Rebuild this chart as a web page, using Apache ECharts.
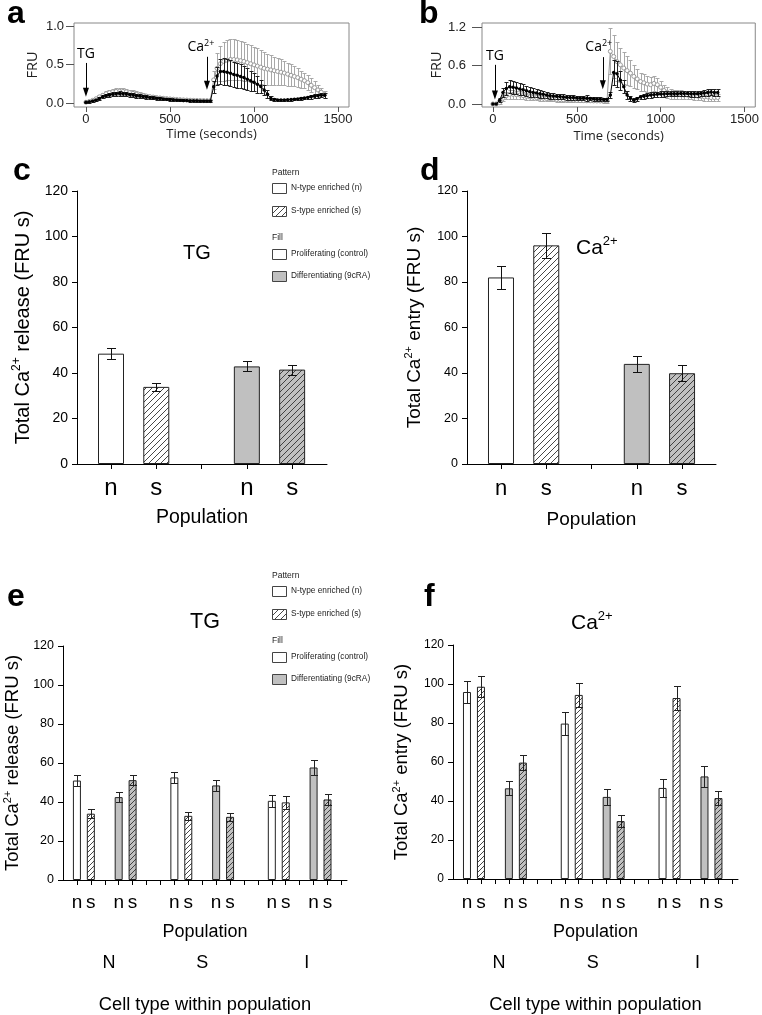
<!DOCTYPE html>
<html><head><meta charset="utf-8">
<script src="https://cdn.jsdelivr.net/npm/echarts@6/dist/echarts.min.js"></script>
<style>html,body{margin:0;padding:0;background:#fff}#c{width:762px;height:1015px}</style>
</head><body><div id="c"></div><script>
// ---------- DATA ----------
// Panel a: time course (FRU), 20 s sampling
const aTime = [0,20,40,60,80,100,120,140,160,180,200,220,240,260,280,300,320,340,360,380,400,420,440,460,480,500,520,540,560,580,600,620,640,660,680,700,720,740,760,780,800,820,840,860,880,900,920,940,960,980,1000,1020,1040,1060,1080,1100,1120,1140,1160,1180,1200,1220,1240,1260,1280,1300,1320,1340,1360,1380,1400,1420];
const aBlack = [0.01,0.015,0.025,0.04,0.06,0.08,0.095,0.105,0.115,0.12,
0.122,0.12,0.118,0.11,0.103,0.095,0.09,0.083,0.077,0.072,
0.066,0.062,0.057,0.053,0.049,0.045,0.042,0.039,0.036,0.034,
0.032,0.03,0.029,0.028,0.027,0.026,0.026,0.025,0.21,0.35,
0.41,0.41,0.4,0.385,0.37,0.36,0.345,0.33,0.31,0.29,
0.27,0.245,0.215,0.17,0.115,0.06,0.045,0.04,0.04,0.04,
0.042,0.045,0.048,0.052,0.058,0.065,0.072,0.08,0.088,0.095,
0.1,0.1];
const aBlackErr = [0.005,0.01,0.012,0.015,0.018,0.02,0.022,0.025,0.027,0.028,
0.028,0.028,0.027,0.026,0.025,0.024,0.023,0.022,0.021,0.02,
0.019,0.018,0.017,0.016,0.015,0.015,0.014,0.014,0.013,0.013,
0.012,0.012,0.012,0.011,0.011,0.011,0.011,0.011,0.08,0.12,
0.16,0.17,0.17,0.17,0.165,0.16,0.155,0.15,0.14,0.13,
0.12,0.11,0.09,0.07,0.05,0.025,0.015,0.012,0.012,0.012,
0.012,0.013,0.014,0.015,0.017,0.019,0.021,0.023,0.025,0.027,
0.028,0.03];
const aGray = [0.01,0.02,0.035,0.055,0.08,0.1,0.12,0.135,0.145,0.15,
0.152,0.15,0.145,0.135,0.125,0.115,0.105,0.097,0.09,0.083,
0.077,0.071,0.066,0.061,0.057,0.053,0.049,0.046,0.043,0.04,
0.038,0.036,0.034,0.033,0.032,0.031,0.03,0.03,0.3,0.45,
0.51,0.54,0.555,0.565,0.565,0.56,0.55,0.54,0.525,0.51,
0.495,0.48,0.465,0.45,0.44,0.43,0.42,0.41,0.4,0.39,
0.375,0.36,0.345,0.33,0.31,0.29,0.265,0.23,0.2,0.17,
0.14,0.11];
const aGrayErr = [0.005,0.01,0.015,0.02,0.025,0.03,0.035,0.04,0.042,0.045,
0.045,0.045,0.043,0.04,0.038,0.035,0.033,0.03,0.028,0.026,
0.024,0.022,0.02,0.019,0.018,0.017,0.016,0.015,0.015,0.014,
0.014,0.013,0.013,0.013,0.012,0.012,0.012,0.012,0.12,0.2,
0.23,0.25,0.26,0.26,0.26,0.26,0.255,0.25,0.245,0.24,
0.235,0.23,0.22,0.21,0.2,0.19,0.18,0.175,0.17,0.16,
0.15,0.14,0.13,0.12,0.11,0.1,0.095,0.09,0.08,0.07,
0.06,0.05];
// Panel b
const bTime = [0,20,40,60,80,100,120,140,160,180,200,220,240,260,280,300,320,340,360,380,400,420,440,460,480,500,520,540,560,580,600,620,640,660,680,700,720,740,760,780,800,820,840,860,880,900,920,940,960,980,1000,1020,1040,1060,1080,1100,1120,1140,1160,1180,1200,1220,1240,1260,1280,1300,1320,1340];
const bBlack = [0,0,0.06,0.18,0.24,0.27,0.26,0.25,0.235,0.22,
0.205,0.19,0.18,0.17,0.16,0.15,0.14,0.13,0.125,0.12,
0.115,0.11,0.105,0.1,0.1,0.095,0.09,0.09,0.09,0.085,
0.08,0.075,0.075,0.07,0.07,0.14,0.49,0.47,0.37,0.27,
0.14,0.09,0.06,0.08,0.11,0.12,0.13,0.14,0.145,0.15,
0.155,0.155,0.16,0.16,0.16,0.16,0.165,0.165,0.165,0.16,
0.16,0.16,0.165,0.17,0.18,0.185,0.18,0.18];
const bBlackErr = [0,0,0.03,0.07,0.1,0.1,0.1,0.095,0.09,0.085,
0.08,0.075,0.07,0.065,0.06,0.055,0.05,0.048,0.045,0.043,
0.04,0.038,0.036,0.035,0.034,0.033,0.032,0.031,0.05,0.03,
0.03,0.029,0.028,0.028,0.028,0.05,0.2,0.2,0.15,0.1,
0.06,0.04,0.03,0.03,0.035,0.04,0.04,0.04,0.04,0.04,
0.04,0.04,0.04,0.04,0.04,0.04,0.04,0.045,0.045,0.045,
0.045,0.045,0.045,0.05,0.05,0.05,0.05,0.05];
const bGray = [0,0,0.02,0.09,0.13,0.15,0.15,0.145,0.14,0.13,
0.12,0.11,0.105,0.1,0.095,0.09,0.085,0.08,0.075,0.07,
0.068,0.065,0.062,0.06,0.058,0.055,0.053,0.052,0.05,0.05,
0.048,0.047,0.046,0.045,0.045,0.82,0.74,0.66,0.61,0.56,
0.52,0.48,0.43,0.39,0.35,0.33,0.31,0.3,0.32,0.3,
0.26,0.21,0.18,0.16,0.15,0.15,0.145,0.14,0.14,0.135,
0.13,0.125,0.12,0.11,0.11,0.1,0.1,0.1];
const bGrayErr = [0,0,0.02,0.05,0.06,0.065,0.065,0.06,0.058,0.055,
0.052,0.05,0.048,0.045,0.043,0.04,0.038,0.036,0.034,0.032,
0.03,0.03,0.028,0.028,0.027,0.026,0.025,0.025,0.024,0.024,
0.023,0.023,0.022,0.022,0.022,0.36,0.33,0.3,0.27,0.25,
0.22,0.2,0.18,0.16,0.14,0.13,0.12,0.12,0.12,0.11,
0.1,0.09,0.08,0.075,0.07,0.07,0.068,0.066,0.065,0.064,
0.062,0.06,0.06,0.06,0.06,0.06,0.06,0.06];
const aTicksX = [0,500,1000,1500];
const aTicksY = [0,0.5,1.0];
const bTicksX = [0,500,1000,1500];
const bTicksY = [0,0.6,1.2];

// Panels c-f: order within a group [Proliferating n, Proliferating s, Differentiating n, Differentiating s]
const patterns = ['n','s'];                 // N-type enriched (n), S-type enriched (s)
const fills = ['Proliferating (control)','Differentiating (9cRA)'];
const cellTypes = ['N','S','I'];
const cMean = [48.5, 33.9, 42.9, 41.5];
const cErr  = [2.5, 1.9, 2.2, 2.2];
const dMean = [82.0, 96.1, 44.0, 39.9];
const dErr  = [5.0, 5.6, 3.5, 3.4];
const eMean = [51.0,34.0,42.5,51.2, 52.6,32.9,48.5,32.4, 40.6,39.8,57.7,41.3];
const eErr  = [2.6,2.2,2.4,2.5, 3.0,2.2,2.9,2.1, 3.1,3.2,3.9,2.9];
const fMean = [95.9,98.6,46.5,59.7, 79.7,94.4,42.1,29.7, 46.7,92.8,52.6,41.5];
const fErr  = [5.6,5.4,3.6,3.9, 5.8,6.0,4.1,3.1, 4.4,6.2,5.2,3.4];

// ---------- HELPERS ----------
const FONT = 'Liberation Sans, Arial, sans-serif';
const FONT2 = 'Open Sans, Liberation Sans, sans-serif';
const GRAY = '#c0c0c0';
function hatch(bg, line, size) {
  const c = document.createElement('canvas'); c.width = size; c.height = size;
  const g = c.getContext('2d'); g.fillStyle = bg; g.fillRect(0,0,size,size);
  g.strokeStyle = line; g.lineWidth = 0.9; g.beginPath();
  g.moveTo(0,size); g.lineTo(size,0);
  g.moveTo(-1,1); g.lineTo(1,-1);
  g.moveTo(size-1,size+1); g.lineTo(size+1,size-1);
  g.stroke(); return {image: c, repeat: 'repeat'};
}
const hatchW6 = hatch('#fff','#333',6), hatchG6 = hatch(GRAY,'#333',6);
const hatchW5 = hatch('#fff','#333',5), hatchG5 = hatch(GRAY,'#333',5);

function zip(xs, ys) { return xs.map((x,i)=>[x, ys[i]]); }
function zip3(xs, ys, es) { return xs.map((x,i)=>[x, ys[i], es[i]]); }

function errSeries(gi, data, color, cap, lw, z) {
  return {type:'custom', xAxisIndex:gi, yAxisIndex:gi, silent:true, z:z, clip:false,
    encode:{x:0, y:1},
    renderItem(params, api) {
      const x = api.value(0), m = api.value(1), e = api.value(2);
      if (!e) return {type:'group', children:[]};
      const t = api.coord([x, m+e]), b = api.coord([x, m-e]);
      const px = Math.round(t[0])+0.5, ty = Math.round(t[1])+0.5, by = Math.round(b[1])+0.5, h = cap/2;
      const st = {stroke:color, lineWidth:lw};
      return {type:'group', children:[
        {type:'line', shape:{x1:px,y1:ty,x2:px,y2:by}, style:st},
        {type:'line', shape:{x1:px-h,y1:ty,x2:px+h,y2:ty}, style:st},
        {type:'line', shape:{x1:px-h,y1:by,x2:px+h,y2:by}, style:st}]};
    }, data:data};
}
const supRich = (fs, sfs, lh) => ({t:{fontSize:fs, fontFamily:FONT, color:'#000', lineHeight:lh}, sup:{fontSize:sfs, fontFamily:FONT, color:'#000', lineHeight:Math.round(lh/2), verticalAlign:'top'}});

// position of bar i on the value x-axis (group layout by category index)
const posCD = i => Math.floor(i/2)*3 + (i%2) + 1;
const posEF = i => Math.floor(i/4)*7 + Math.floor((i%4)/2)*3 + (i%2) + 1;
function barItems(means, posFn, small) {
  return means.map((v,i) => {
    const fill = Math.floor((i%4)/2), pat = i%2;
    const color = pat ? (fill ? (small?hatchG5:hatchG6) : (small?hatchW5:hatchW6)) : (fill ? GRAY : '#fff');
    return {value:[posFn(i), v], itemStyle:{color:color, borderColor:'#222', borderWidth:1}};
  });
}
const cdPos = cMean.map((v,i)=>posCD(i));
const efPos = eMean.map((v,i)=>posEF(i));
const cdTicks = []; for (let k=1;k<=Math.max(...cdPos);k++) cdTicks.push(k);
const efTicks = []; for (let k=1;k<=Math.max(...efPos)+1;k++) efTicks.push(k);
const patLabelCD = v => patterns[cdPos.indexOf(Math.round(v)) % 2] || '';
const patLabelEF = v => patterns[efPos.indexOf(Math.round(v)) % 2] || '';
const cellLabelPos = [3.3, 10, 17.5];

// ---------- AXES ----------
function tsX(gi, min, max, ticks, gap) {
  return {gridIndex:gi, type:'value', min:min, max:max,
    axisLine:{show:false, onZero:false},
    axisTick:{show:true, length:5, customValues:ticks, lineStyle:{color:'#555'}},
    axisLabel:{customValues:ticks, formatter:v=>String(v), fontSize:13, margin:6, color:'#222', fontFamily:FONT},
    splitLine:{show:false},
    name:'Time (seconds)', nameLocation:'middle', nameGap:gap,
    nameTextStyle:{fontSize:13, fontFamily:FONT2, color:'#222'}};
}
function tsY(gi, min, max, ticks, tl, margin, gap) {
  return {gridIndex:gi, type:'value', min:min, max:max,
    axisLine:{show:false, onZero:false},
    axisTick:{show:true, length:tl, customValues:ticks, lineStyle:{color:'#555'}},
    axisLabel:{customValues:ticks, formatter:v=>v.toFixed(1), fontSize:13, margin:margin, color:'#222', fontFamily:FONT},
    splitLine:{show:false},
    name:'FRU', nameLocation:'middle', nameGap:gap,
    nameTextStyle:{fontSize:14.5, fontFamily:FONT2, color:'#222'}};
}
function barY(gi, label, lfs, nfs, gap) {
  return {gridIndex:gi, type:'value', min:0, max:120, interval:20,
    axisLine:{show:true, onZero:false, lineStyle:{color:'#000', width:1}},
    axisTick:{show:true, length:5, lineStyle:{color:'#000'}},
    axisLabel:{fontSize:lfs, margin:9, color:'#000', fontFamily:FONT},
    splitLine:{show:false},
    name:'{t|Total Ca}{sup|2+}{t| ' + label + ' (FRU s)}', nameLocation:'middle', nameGap:gap,
    nameTextStyle:{rich:supRich(nfs, Math.round(nfs*0.6), Math.round(nfs*1.2))}};
}
function barX(gi, min, max, ticks, labels, fmt, lfs, lmargin, nfs, gap) {
  return {gridIndex:gi, type:'value', min:min, max:max,
    axisLine:{show:true, onZero:false, lineStyle:{color:'#000', width:1}},
    axisTick:{show:true, length:5, customValues:ticks, lineStyle:{color:'#000'}},
    axisLabel:{customValues:labels, formatter:fmt, hideOverlap:false, interval:0, fontSize:lfs, margin:lmargin, color:'#000', fontFamily:FONT},
    splitLine:{show:false},
    name:'Population', nameLocation:'middle', nameGap:gap,
    nameTextStyle:{fontSize:nfs, fontFamily:FONT, color:'#000'}};
}
function cellX(gi, max, margin, gap) {
  return {gridIndex:gi, type:'value', min:0, max:max,
    axisLine:{show:false, onZero:false}, axisTick:{show:false},
    axisLabel:{customValues:cellLabelPos, formatter:(v)=>cellTypes[cellLabelPos.indexOf(v)] || '', fontSize:18, margin:margin, color:'#000', fontFamily:FONT},
    splitLine:{show:false},
    name:'Cell type within population', nameLocation:'middle', nameGap:gap,
    nameTextStyle:{fontSize:18.3, fontFamily:FONT, color:'#000'}};
}

// ---------- LEGEND / TEXT GRAPHICS ----------
function legend(x, y0) {
  const items = [
    {dy:0, head:'Pattern'},
    {dy:15, fill:'#fff', text:'N-type enriched (n)'},
    {dy:38, fill:hatchW6, text:'S-type enriched (s)'},
    {dy:65, head:'Fill'},
    {dy:81, fill:'#fff', text:fills[0]},
    {dy:103, fill:GRAY, text:fills[1]}];
  const els = [];
  items.forEach(it => {
    if (it.head) {
      els.push({type:'text', style:{text:it.head, x:x, y:y0+it.dy, fontSize:8.5, fontFamily:FONT, fill:'#222', verticalAlign:'middle'}});
    } else {
      els.push({type:'rect', shape:{x:x+0.5, y:y0+it.dy-5+0.5, width:14, height:10}, style:{fill:it.fill, stroke:'#444', lineWidth:1}});
      els.push({type:'text', style:{text:it.text, x:x+19, y:y0+it.dy, fontSize:8.3, fontFamily:FONT, fill:'#222', verticalAlign:'middle'}});
    }
  });
  return els;
}
function letter(t, x, y) {
  return {type:'text', style:{text:t, x:x, y:y, fontSize:32, fontWeight:'bold', fontFamily:FONT, fill:'#000', verticalAlign:'middle'}};
}
function caText(x, y, fs) {
  return {type:'text', style:{text:'{m|Ca}{s|2+}', x:x, y:y, verticalAlign:'middle',
    rich:{m:{fontSize:fs, fontFamily:FONT, fill:'#000', lineHeight:fs*1.2}, s:{fontSize:Math.round(fs*0.62), fontFamily:FONT, fill:'#000', lineHeight:Math.round(fs*0.6), verticalAlign:'top'}}}};
}
function plainText(t, x, y, fs) {
  return {type:'text', style:{text:t, x:x, y:y, fontSize:fs, fontFamily:FONT, fill:'#000', align:'center', verticalAlign:'middle'}};
}

// arrow annotations for time courses
function arrows(tgX, tgTop, tgBot, caX, caTop, caBot, caOff) {
  return {silent:true, symbol:['none','triangle'], symbolSize:[6,9], animation:false,
    lineStyle:{color:'#000', width:1, type:'solid'},
    itemStyle:{color:'#000'},
    label:{show:true, position:'start', distance:2, color:'#000', fontSize:14, fontFamily:FONT2},
    data:[
      [{coord:[tgX, tgTop], label:{formatter:'TG'}}, {coord:[tgX, tgBot]}],
      [{coord:[caX, caTop], label:{formatter:'{m|Ca}{s|2+}', offset:[caOff,0], rich:{m:{fontSize:14, fontFamily:FONT2, color:'#000', lineHeight:16}, s:{fontSize:9, fontFamily:FONT2, color:'#000', lineHeight:8, verticalAlign:'top'}}}}, {coord:[caX, caBot]}]
    ]};
}

const chart = echarts.init(document.getElementById('c'), null, {renderer:'canvas'});
const option = {
  animation:false,
  backgroundColor:'#fff',
  grid:[
    {left:74, top:23, width:275, height:84, show:true, borderColor:'#888', borderWidth:1},
    {left:482, top:23, width:276, height:84, show:true, borderColor:'#888', borderWidth:1},
    {left:77, top:191, width:250, height:273},
    {left:467, top:191, width:249, height:273},
    {left:63, top:646, width:284, height:234},
    {left:453, top:645, width:285, height:234},
    {left:63, top:646, width:284, height:234},
    {left:453, top:645, width:285, height:234}
  ],
  xAxis:[
    tsX(0, -71, 1565, aTicksX, 21),
    tsX(1, -65, 1564, bTicksX, 23),
    barX(2, 0.249, 5.77, cdTicks, cdPos, patLabelCD, 24, 12, 19.5, 44),
    barX(3, 0.249, 5.75, cdTicks, cdPos, patLabelCD, 22, 14, 19, 46),
    barX(4, 0, 20.4, efTicks, efPos, patLabelEF, 19, 13, 18, 43),
    barX(5, 0, 20.4, efTicks, efPos, patLabelEF, 19, 14, 18, 44),
    cellX(6, 20.4, 74, 116),
    cellX(7, 20.4, 75, 117)
  ],
  yAxis:[
    tsY(0, -0.052, 1.039, aTicksY, 8, 10, 34),
    tsY(1, -0.047, 1.262, bTicksY, 10, 16, 33),
    barY(2, 'release', 14, 20, 42),
    barY(3, 'entry', 12.5, 19, 41),
    barY(4, 'release', 12.5, 18.5, 39),
    barY(5, 'entry', 12, 18.5, 40),
    {gridIndex:6, type:'value', show:false, min:0, max:120},
    {gridIndex:7, type:'value', show:false, min:0, max:120}
  ],
  series:[
    // panel a
    errSeries(0, zip3(aTime, aGray, aGrayErr), '#a8a8a8', 4, 1, 2),
    {type:'line', xAxisIndex:0, yAxisIndex:0, data:zip(aTime, aGray), showAllSymbol:true, symbol:'circle', symbolSize:4,
      itemStyle:{color:'#fff', borderColor:'#999', borderWidth:1}, lineStyle:{color:'#999', width:1}, z:3},
    errSeries(0, zip3(aTime, aBlack, aBlackErr), '#222', 4, 1, 4),
    {type:'line', xAxisIndex:0, yAxisIndex:0, data:zip(aTime, aBlack), showAllSymbol:true, symbol:'circle', symbolSize:3.5,
      itemStyle:{color:'#000'}, lineStyle:{color:'#000', width:1}, z:5,
      markLine:arrows(0, 0.52, 0.14, 720, 0.6, 0.23, -6)},
    // panel b
    errSeries(1, zip3(bTime, bGray, bGrayErr), '#a8a8a8', 4, 1, 2),
    {type:'line', xAxisIndex:1, yAxisIndex:1, data:zip(bTime, bGray), showAllSymbol:true, symbol:'circle', symbolSize:4,
      itemStyle:{color:'#fff', borderColor:'#999', borderWidth:1}, lineStyle:{color:'#999', width:1}, z:3},
    errSeries(1, zip3(bTime, bBlack, bBlackErr), '#222', 4, 1, 4),
    {type:'line', xAxisIndex:1, yAxisIndex:1, data:zip(bTime, bBlack), showAllSymbol:true, symbol:'circle', symbolSize:3.5,
      itemStyle:{color:'#000'}, lineStyle:{color:'#000', width:1}, z:5,
      markLine:arrows(12, 0.61, 0.14, 655, 0.73, 0.3, -4)},
    // panel c
    {type:'bar', xAxisIndex:2, yAxisIndex:2, barWidth:26, data:barItems(cMean, posCD, false), z:2},
    errSeries(2, zip3(cdPos, cMean, cErr), '#111', 9, 1, 6),
    // panel d
    {type:'bar', xAxisIndex:3, yAxisIndex:3, barWidth:26, data:barItems(dMean, posCD, false), z:2},
    errSeries(3, zip3(cdPos, dMean, dErr), '#111', 9, 1, 6),
    // panel e
    {type:'bar', xAxisIndex:4, yAxisIndex:4, barWidth:8, data:barItems(eMean, posEF, true), z:2},
    errSeries(4, zip3(efPos, eMean, eErr), '#222', 7, 1, 6),
    // panel f
    {type:'bar', xAxisIndex:5, yAxisIndex:5, barWidth:8, data:barItems(fMean, posEF, true), z:2},
    errSeries(5, zip3(efPos, fMean, fErr), '#222', 7, 1, 6)
  ],
  graphic:[].concat(
    [letter('a', 7, 14), letter('b', 419, 14), letter('c', 13, 171), letter('d', 420, 171), letter('e', 7, 597), letter('f', 424, 597)],
    [plainText('TG', 197, 253, 20), caText(576, 248, 21), plainText('TG', 205, 622, 21.5), caText(571, 623, 21)],
    legend(272, 173), legend(272, 576)
  )
};
chart.setOption(option);
</script></body></html>
